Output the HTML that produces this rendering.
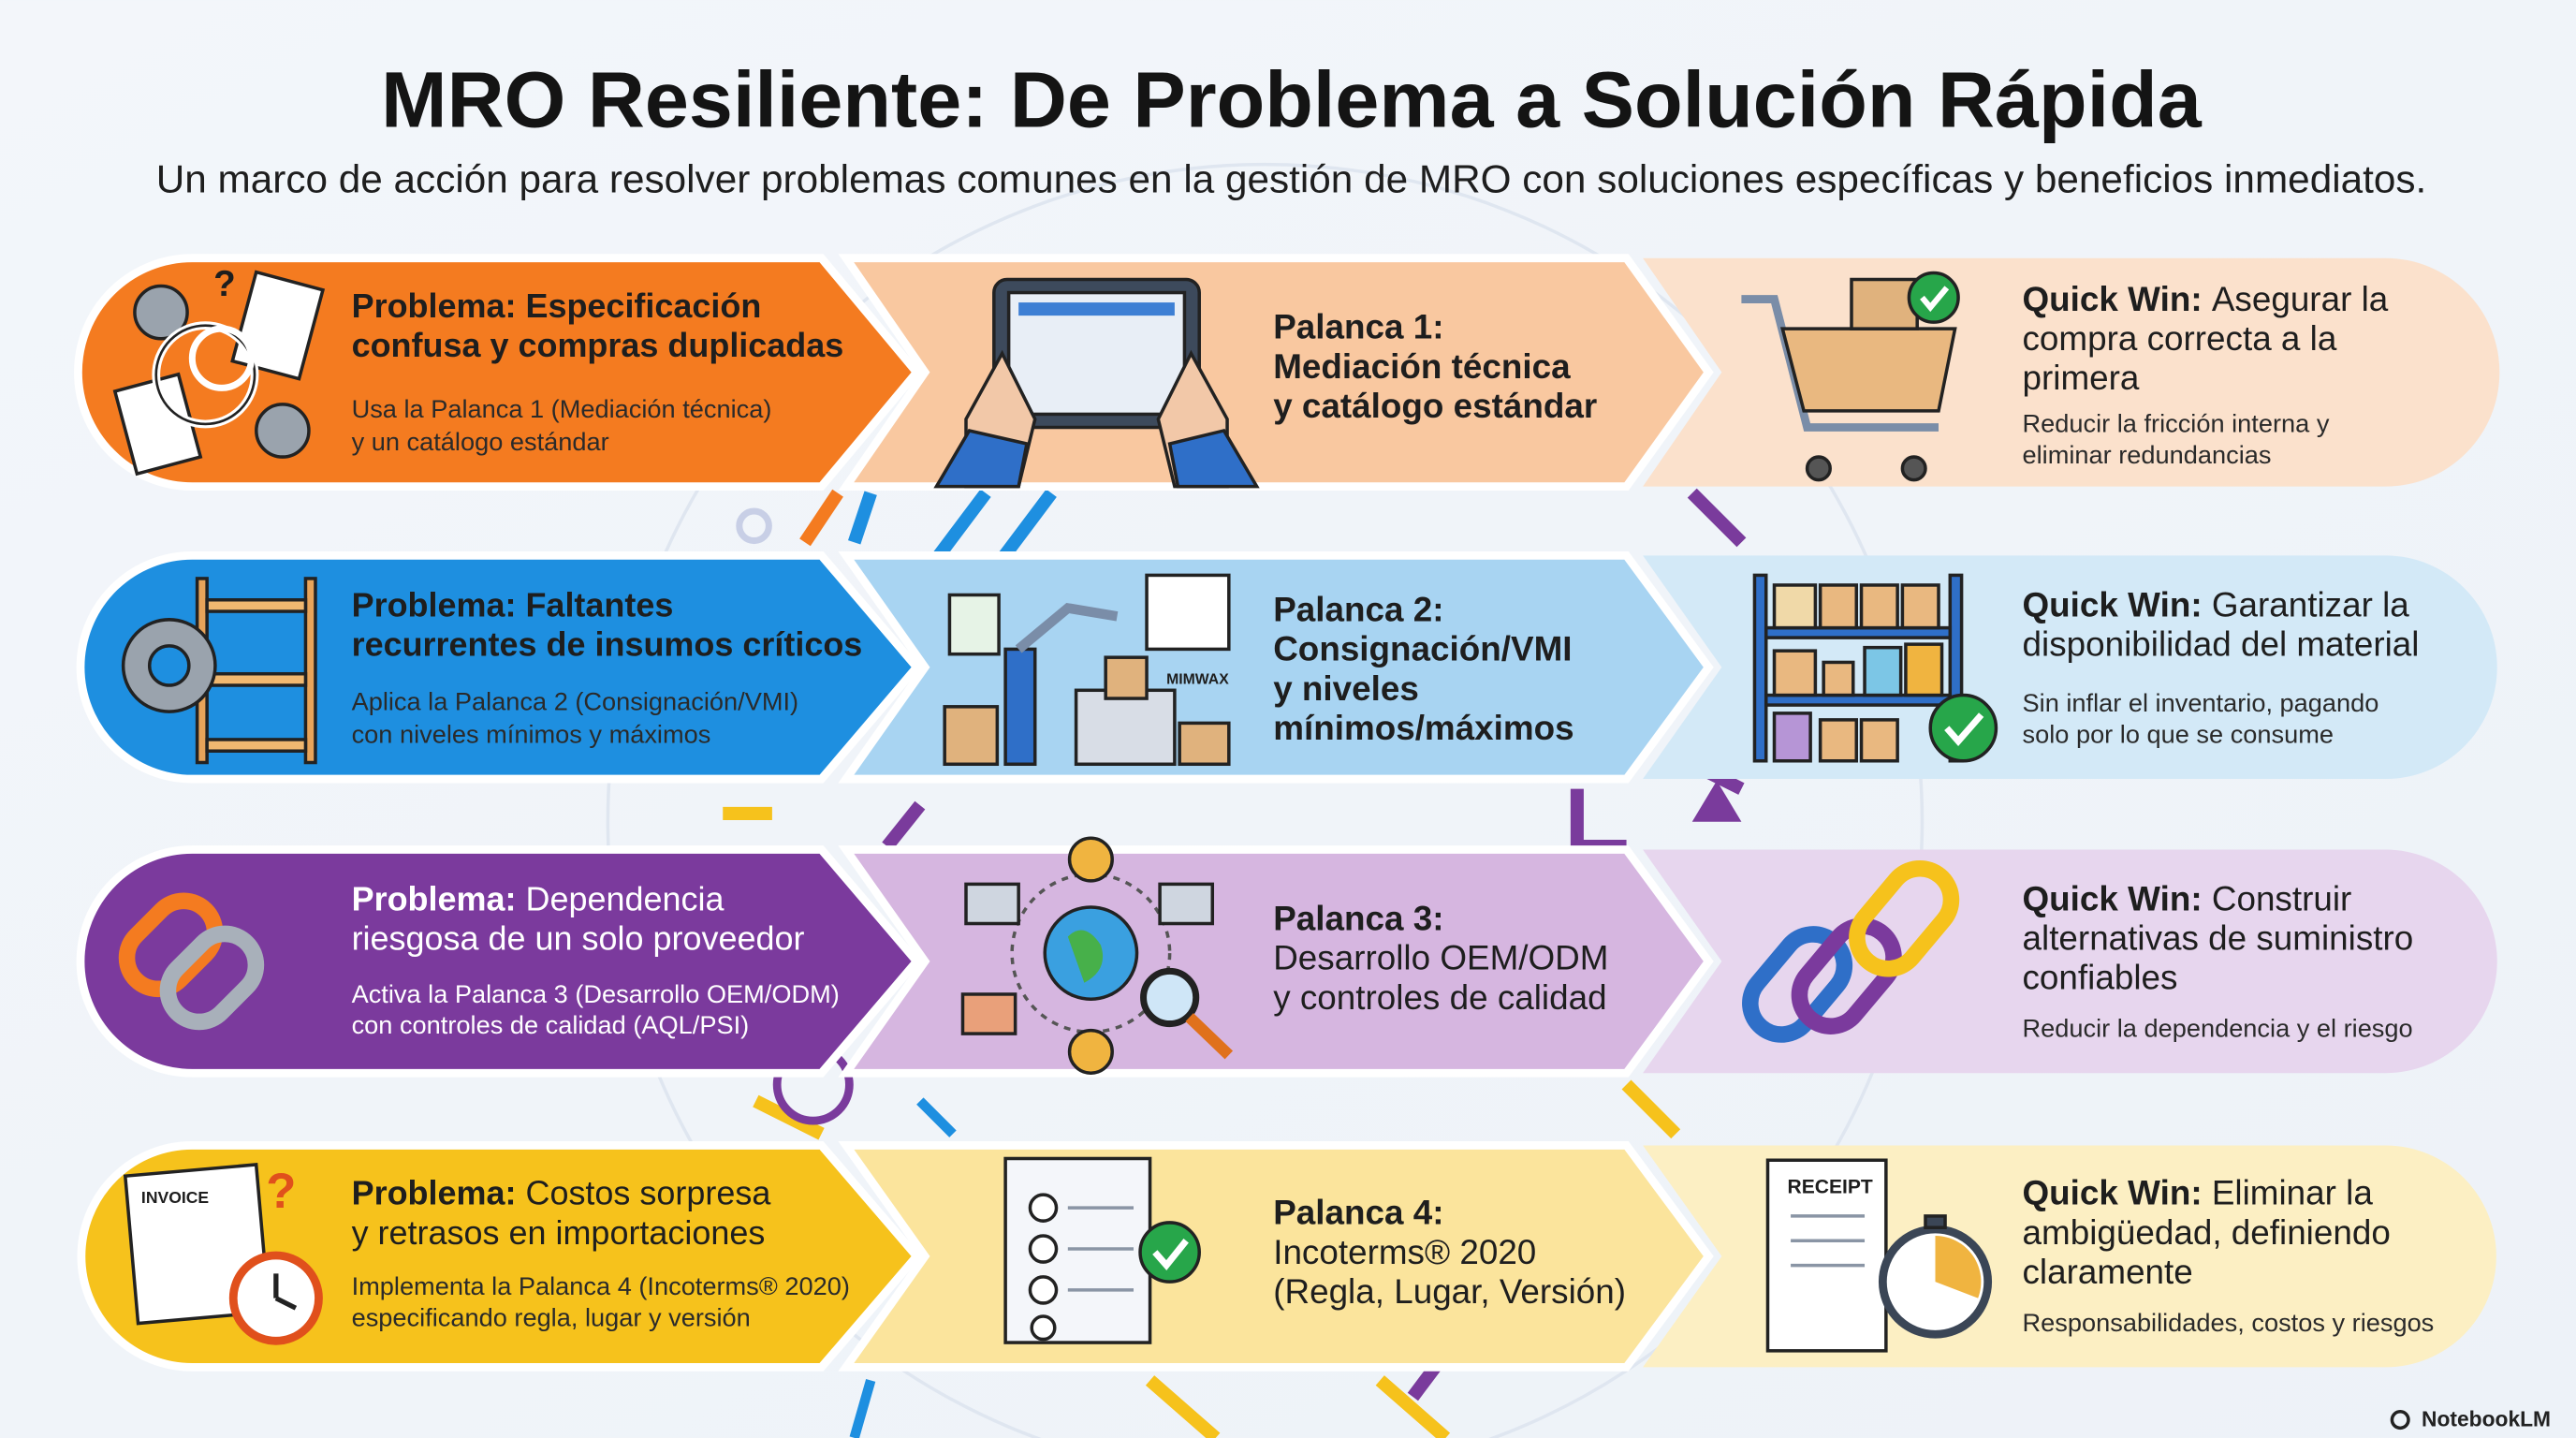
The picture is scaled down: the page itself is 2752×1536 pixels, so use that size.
<!DOCTYPE html>
<html><head><meta charset="utf-8"><style>
html,body{margin:0;padding:0;background:#f0f4f8;}
svg{display:block;}
text{font-family:"Liberation Sans","DejaVu Sans",sans-serif;fill:#1e1e1e;}
.t{font-weight:bold;font-size:20.5px;}
.s{font-size:15.5px;fill:#2a2a2a;}
.p{font-weight:bold;font-size:21px;}
.q{font-size:21px;font-weight:bold;}
</style></head><body>
<svg width="2752" height="1536" viewBox="0 0 1568 875" xmlns="http://www.w3.org/2000/svg">
<defs>
<linearGradient id="bg" x1="0" y1="0" x2="1" y2="1"><stop offset="0" stop-color="#f3f6fa"/><stop offset="1" stop-color="#edf2f8"/></linearGradient>
</defs>
<rect width="1568" height="875" fill="url(#bg)"/>
<circle cx="770" cy="500" r="400" fill="none" stroke="#dfe6f0" stroke-width="2"/>
<path d="M530 300 L520 330 M600 300 L570 340 M640 300 L610 340" stroke="#1e8fe0" stroke-width="8"/>
<path d="M490 330 L510 300" stroke="#f47b20" stroke-width="8"/>
<path d="M560 490 L540 515 M960 480 L960 515 L990 515 M1040 470 L1060 480 M1030 300 L1060 330" stroke="#7a3b9c" stroke-width="8" fill="none"/>
<path d="M1045 475 L1060 500 L1030 500 Z" fill="#7a3b9c"/>
<path d="M440 495 L470 495 M460 670 L500 690" stroke="#f6c21c" stroke-width="8"/>
<path d="M990 660 L1020 690 M840 840 L880 875 M700 840 L740 875" stroke="#f6c21c" stroke-width="8"/>
<path d="M860 850 L890 810" stroke="#7a3b9c" stroke-width="8"/>
<path d="M560 670 L580 690 M530 840 L520 875" stroke="#1e8fe0" stroke-width="6"/>
<circle cx="459" cy="320" r="9" fill="none" stroke="#c8cfe6" stroke-width="4"/>
<circle cx="495" cy="660" r="22" fill="none" stroke="#7a3b9c" stroke-width="5"/>

<text x="232" y="77" textLength="1108" lengthAdjust="spacingAndGlyphs" style="font-weight:bold;font-size:48px;fill:#141414">MRO Resiliente: De Problema a Solución Rápida</text>
<text x="95" y="117" textLength="1382" lengthAdjust="spacingAndGlyphs" style="font-size:23.5px;fill:#1e1e1e">Un marco de acción para resolver problemas comunes en la gestión de MRO con soluciones específicas y beneficios inmediatos.</text>

<g>
<path d="M1000 157 L1452 157 A69.5 69.5 0 0 1 1452 296 L1000 296 L1048 226.5 Z" fill="#fbe1cc"/>
<path d="M515 157 L990 157 L1040 226.5 L990 296 L515 296 L563 226.5 Z" fill="#f9c8a0" stroke="#fff" stroke-width="5"/>
<path d="M117 157 L500 157 L558 226.5 L500 296 L117 296 A69.5 69.5 0 0 1 117 157 Z" fill="#f47b20" stroke="#fff" stroke-width="5"/>
</g>
<g>
<path d="M1000 338 L1452 338 A68 68 0 0 1 1452 474 L1000 474 L1048 406 Z" fill="#d3e9f7"/>
<path d="M515 338 L990 338 L1040 406 L990 474 L515 474 L563 406 Z" fill="#a8d4f2" stroke="#fff" stroke-width="5"/>
<path d="M117 338 L500 338 L558 406 L500 474 L117 474 A68 68 0 0 1 117 338 Z" fill="#1e8fe0" stroke="#fff" stroke-width="5"/>
</g>
<g>
<path d="M1000 517 L1452 517 A68 68 0 0 1 1452 653 L1000 653 L1048 585 Z" fill="#e7d6ee"/>
<path d="M515 517 L990 517 L1040 585 L990 653 L515 653 L563 585 Z" fill="#d6b6e0" stroke="#fff" stroke-width="5"/>
<path d="M117 517 L500 517 L558 585 L500 653 L117 653 A68 68 0 0 1 117 517 Z" fill="#7b3a9d" stroke="#fff" stroke-width="5"/>
</g>
<g>
<path d="M1000 697 L1452 697 A67.5 67.5 0 0 1 1452 832 L1000 832 L1048 764.5 Z" fill="#fcefc3"/>
<path d="M515 697 L990 697 L1040 764.5 L990 832 L515 832 L563 764.5 Z" fill="#fbe49c" stroke="#fff" stroke-width="5"/>
<path d="M117 697 L500 697 L558 764.5 L500 832 L117 832 A67.5 67.5 0 0 1 117 697 Z" fill="#f6c21c" stroke="#fff" stroke-width="5"/>
</g>

<g stroke="#222" stroke-width="2">
<circle cx="98" cy="190" r="16" fill="#9aa3ad"/><circle cx="172" cy="262" r="16" fill="#9aa3ad"/>
<rect x="148" y="170" width="42" height="56" fill="#fff" transform="rotate(15 169 198)"/>
<rect x="76" y="232" width="40" height="52" fill="#fff" transform="rotate(-15 96 258)"/>
<circle cx="125" cy="228" r="30" fill="none" stroke="#fff" stroke-width="5"/><circle cx="125" cy="228" r="30" fill="none" stroke-width="1.5"/>
<circle cx="135" cy="218" r="18" fill="none" stroke="#fff" stroke-width="4"/>
</g>
<text x="130" y="180" style="font-weight:bold;font-size:22px">?</text>
<g stroke="#222" stroke-width="2">
<rect x="605" y="170" width="125" height="90" rx="8" fill="#3d4a5c"/>
<rect x="614" y="178" width="107" height="74" fill="#e8eef6"/>
<rect x="620" y="184" width="95" height="8" fill="#3d7fd4" stroke="none"/>
<path d="M588 255 L610 215 L630 255 L620 296 L588 296 Z" fill="#f2c8a8"/>
<path d="M747 255 L725 215 L705 255 L715 296 L747 296 Z" fill="#f2c8a8"/>
<path d="M570 296 L590 262 L625 270 L620 296 Z" fill="#2f6fc8"/>
<path d="M765 296 L745 262 L712 270 L717 296 Z" fill="#2f6fc8"/>
</g>
<g stroke="#222" stroke-width="2">
<path d="M1060 182 L1080 182 L1100 260 L1180 260" fill="none" stroke="#7a8da8" stroke-width="5"/>
<path d="M1085 200 L1190 200 L1180 250 L1098 250 Z" fill="#e9b880"/>
<rect x="1127" y="170" width="40" height="30" fill="#e0b27d"/>
<circle cx="1107" cy="285" r="7" fill="#555"/><circle cx="1165" cy="285" r="7" fill="#555"/>
<circle cx="1177" cy="181" r="15" fill="#27a64a"/>
<path d="M1170 181 L1175 187 L1185 175" fill="none" stroke="#fff" stroke-width="3.5"/>
</g>
<g stroke="#222" stroke-width="2">
<rect x="120" y="352" width="6" height="112" fill="#e8a45a"/><rect x="186" y="352" width="6" height="112" fill="#e8a45a"/>
<rect x="126" y="365" width="60" height="7" fill="#f1b870"/><rect x="126" y="410" width="60" height="7" fill="#f1b870"/><rect x="126" y="450" width="60" height="7" fill="#f1b870"/>
<circle cx="103" cy="405" r="28" fill="#9aa3ad"/><circle cx="103" cy="405" r="12" fill="#1e8fe0"/>
</g>
<g stroke="#222" stroke-width="2">
<rect x="578" y="362" width="30" height="36" fill="#e6f3e6"/>
<rect x="612" y="395" width="18" height="70" fill="#2f6fc8"/>
<path d="M620 395 L650 370 L680 375" fill="none" stroke="#7a8da8" stroke-width="6"/>
<rect x="698" y="350" width="50" height="45" fill="#fff"/>
<rect x="575" y="430" width="32" height="35" fill="#e0b27d"/>
<rect x="655" y="420" width="60" height="45" fill="#d8dde6"/>
<rect x="718" y="440" width="30" height="25" fill="#e0b27d"/>
<rect x="673" y="400" width="25" height="25" fill="#e0b27d"/>
</g>
<text x="710" y="416" style="font-weight:bold;font-size:9px">MIMWAX</text>
<g stroke="#222" stroke-width="2">
<rect x="1068" y="350" width="7" height="113" fill="#2f6fc8"/><rect x="1187" y="350" width="7" height="113" fill="#2f6fc8"/>
<rect x="1075" y="382" width="112" height="6" fill="#2f6fc8"/><rect x="1075" y="423" width="112" height="6" fill="#2f6fc8"/>
<rect x="1080" y="356" width="25" height="26" fill="#f0d9a8"/><rect x="1108" y="356" width="22" height="26" fill="#e9b880"/><rect x="1133" y="356" width="22" height="26" fill="#e9b880"/><rect x="1158" y="356" width="22" height="26" fill="#e9b880"/>
<rect x="1080" y="396" width="25" height="27" fill="#e9b880"/><rect x="1110" y="403" width="18" height="20" fill="#e9b880"/><rect x="1135" y="394" width="22" height="29" fill="#7cc6e6"/><rect x="1160" y="392" width="22" height="31" fill="#f0b440"/>
<rect x="1080" y="434" width="22" height="29" fill="#b695d6"/><rect x="1108" y="438" width="22" height="25" fill="#e9b880"/><rect x="1133" y="438" width="22" height="25" fill="#e9b880"/>
<circle cx="1195" cy="443" r="20" fill="#27a64a"/>
<path d="M1185 443 L1192 451 L1206 435" fill="none" stroke="#fff" stroke-width="4"/>
</g>
<g stroke="#222" stroke-width="2">
<rect x="85" y="545" width="38" height="60" rx="19" fill="none" stroke="#f47b20" stroke-width="10" transform="rotate(45 104 575)"/>
<rect x="110" y="565" width="38" height="60" rx="19" fill="none" stroke="#a8b0ba" stroke-width="10" transform="rotate(45 129 595)"/>
</g>
<g stroke="#222" stroke-width="2">
<circle cx="664" cy="580" r="48" fill="none" stroke="#555" stroke-dasharray="4 4"/>
<circle cx="664" cy="580" r="28" fill="#3aa0e0"/>
<path d="M650 570 Q660 560 670 575 Q675 590 660 598 Z" fill="#47b04a" stroke="none"/>
<circle cx="664" cy="523" r="13" fill="#f0b440"/><circle cx="664" cy="640" r="13" fill="#f0b440"/>
<rect x="588" y="538" width="32" height="24" fill="#cfd6e0"/><rect x="706" y="538" width="32" height="24" fill="#cfd6e0"/><rect x="586" y="605" width="32" height="24" fill="#e9a07a"/>
<circle cx="712" cy="607" r="16" fill="#cfe6f7" stroke-width="4"/>
<path d="M724 619 L748 642" stroke="#e0711c" stroke-width="7"/>
</g>
<g stroke="#222" stroke-width="2">
<rect x="1075" y="565" width="38" height="68" rx="19" fill="none" stroke="#2f6fc8" stroke-width="10" transform="rotate(40 1094 599)"/>
<rect x="1105" y="560" width="38" height="68" rx="19" fill="none" stroke="#7b3a9d" stroke-width="10" transform="rotate(40 1124 594)"/>
<rect x="1140" y="525" width="38" height="68" rx="19" fill="none" stroke="#f6c21c" stroke-width="10" transform="rotate(40 1159 559)"/>
</g>
<g stroke="#222" stroke-width="2">
<rect x="80" y="712" width="80" height="90" fill="#fff" transform="rotate(-5 120 757)"/>
<circle cx="168" cy="790" r="26" fill="#fff" stroke="#e0501c" stroke-width="5"/>
<path d="M168 790 L168 775 M168 790 L180 796" stroke-width="3"/>
</g>
<text x="86" y="732" style="font-weight:bold;font-size:10px">INVOICE</text>
<text x="162" y="735" style="font-weight:bold;font-size:30px;fill:#e0501c">?</text>
<g stroke="#222" stroke-width="2">
<rect x="612" y="705" width="88" height="112" fill="#f4f6fa"/>
<circle cx="635" cy="735" r="8" fill="#fff"/><circle cx="635" cy="760" r="8" fill="#fff"/><circle cx="635" cy="785" r="8" fill="#fff"/><circle cx="635" cy="808" r="7" fill="#fff"/>
<path d="M650 735 L690 735 M650 760 L690 760 M650 785 L690 785" stroke="#8a95a5"/>
<circle cx="712" cy="762" r="18" fill="#27a64a"/>
<path d="M703 762 L710 770 L722 755" fill="none" stroke="#fff" stroke-width="4"/>
</g>
<g stroke="#222" stroke-width="2">
<rect x="1076" y="706" width="72" height="116" fill="#fff"/>
<path d="M1090 740 L1135 740 M1090 755 L1135 755 M1090 770 L1135 770" stroke="#8a95a5"/>
<circle cx="1178" cy="780" r="32" fill="#fff" stroke="#3b4656" stroke-width="5"/>
<path d="M1178 780 L1178 752 A28 28 0 0 1 1204 790 Z" fill="#f0b440" stroke="none"/>
<rect x="1172" y="740" width="12" height="7" fill="#3b4656"/>
</g>
<text x="1088" y="726" style="font-weight:bold;font-size:12px">RECEIPT</text>

<text x="214" y="193" class="t">Problema: Especificación</text>
<text x="214" y="217" class="t">confusa y compras duplicadas</text>
<text x="214" y="254" class="s">Usa la Palanca 1 (Mediación técnica)</text>
<text x="214" y="274" class="s">y un catálogo estándar</text>
<text x="775" y="206" class="p">Palanca 1:</text>
<text x="775" y="230" class="p">Mediación técnica</text>
<text x="775" y="254" class="p">y catálogo estándar</text>
<text x="1231" y="189" class="q">Quick Win: <tspan font-weight="normal">Asegurar la</tspan></text>
<text x="1231" y="213" class="q" style="font-weight:normal">compra correcta a la</text>
<text x="1231" y="237" class="q" style="font-weight:normal">primera</text>
<text x="1231" y="263" class="s">Reducir la fricción interna y</text>
<text x="1231" y="282" class="s">eliminar redundancias</text>

<text x="214" y="375" class="t">Problema: Faltantes</text>
<text x="214" y="399" class="t">recurrentes de insumos críticos</text>
<text x="214" y="432" class="s">Aplica la Palanca 2 (Consignación/VMI)</text>
<text x="214" y="452" class="s">con niveles mínimos y máximos</text>
<text x="775" y="378" class="p">Palanca 2:</text>
<text x="775" y="402" class="p">Consignación/VMI</text>
<text x="775" y="426" class="p">y niveles</text>
<text x="775" y="450" class="p">mínimos/máximos</text>
<text x="1231" y="375" class="q">Quick Win: <tspan style="font-weight:normal">Garantizar la</tspan></text>
<text x="1231" y="399" class="q" style="font-weight:normal">disponibilidad del material</text>
<text x="1231" y="433" class="s">Sin inflar el inventario, pagando</text>
<text x="1231" y="452" class="s">solo por lo que se consume</text>

<text x="214" y="554" class="t" style="fill:#fff">Problema: <tspan style="font-weight:normal">Dependencia</tspan></text>
<text x="214" y="578" class="t" style="fill:#fff;font-weight:normal">riesgosa de un solo proveedor</text>
<text x="214" y="610" class="s" style="fill:#fff">Activa la Palanca 3 (Desarrollo OEM/ODM)</text>
<text x="214" y="629" class="s" style="fill:#fff">con controles de calidad (AQL/PSI)</text>
<text x="775" y="566" class="p">Palanca 3:</text>
<text x="775" y="590" class="p" style="font-weight:normal">Desarrollo OEM/ODM</text>
<text x="775" y="614" class="p" style="font-weight:normal">y controles de calidad</text>
<text x="1231" y="554" class="q">Quick Win: <tspan style="font-weight:normal">Construir</tspan></text>
<text x="1231" y="578" class="q" style="font-weight:normal">alternativas de suministro</text>
<text x="1231" y="602" class="q" style="font-weight:normal">confiables</text>
<text x="1231" y="631" class="s">Reducir la dependencia y el riesgo</text>

<text x="214" y="733" class="t">Problema: <tspan style="font-weight:normal">Costos sorpresa</tspan></text>
<text x="214" y="757" class="t" style="font-weight:normal">y retrasos en importaciones</text>
<text x="214" y="788" class="s">Implementa la Palanca 4 (Incoterms® 2020)</text>
<text x="214" y="807" class="s">especificando regla, lugar y versión</text>
<text x="775" y="745" class="p">Palanca 4:</text>
<text x="775" y="769" class="p" style="font-weight:normal">Incoterms® 2020</text>
<text x="775" y="793" class="p" style="font-weight:normal">(Regla, Lugar, Versión)</text>
<text x="1231" y="733" class="q">Quick Win: <tspan style="font-weight:normal">Eliminar la</tspan></text>
<text x="1231" y="757" class="q" style="font-weight:normal">ambigüedad, definiendo</text>
<text x="1231" y="781" class="q" style="font-weight:normal">claramente</text>
<text x="1231" y="810" class="s">Responsabilidades, costos y riesgos</text>

<text x="1474" y="868" style="font-size:13px;font-weight:bold;fill:#222">NotebookLM</text>
<circle cx="1461" cy="864" r="5" fill="none" stroke="#222" stroke-width="2"/>
</svg>
</body></html>
